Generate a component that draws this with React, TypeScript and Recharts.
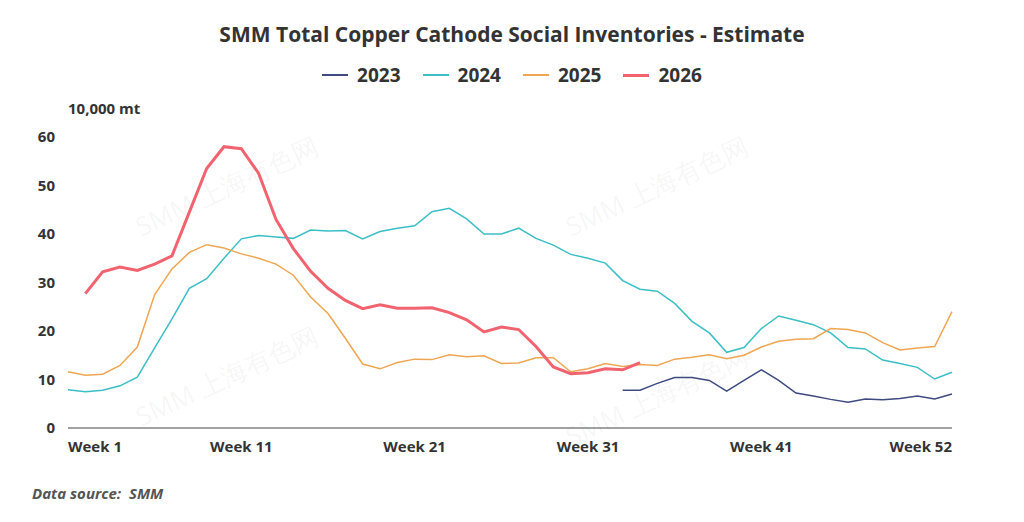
import { LineChart, Line, XAxis, YAxis } from "recharts";

const weeks = Array.from({ length: 52 }, (_, i) => i + 1);

const s2023: (number | null)[] = [
  ...Array(32).fill(null),
  7.8, 7.8, 9.2, 10.4, 10.4, 9.8, 7.6, 9.8, 12, 9.8, 7.2, 6.6, 5.9, 5.3, 6, 5.8, 6.1, 6.6, 6, 7,
];
const s2024 = [
  7.9, 7.5, 7.8, 8.7, 10.5, 16.5, 22.5, 28.8, 30.8, 35, 39, 39.7, 39.4, 39.1, 40.8, 40.6, 40.7, 39,
  40.5, 41.2, 41.7, 44.6, 45.3, 43.1, 40, 40, 41.2, 39.1, 37.7, 35.8, 35, 34, 30.4, 28.6, 28.2, 25.7,
  22, 19.6, 15.6, 16.6, 20.5, 23.1, 22.2, 21.3, 19.6, 16.6, 16.3, 14, 13.3, 12.5, 10.1, 11.5,
];
const s2025 = [
  11.6, 10.9, 11.1, 12.9, 16.7, 27.5, 32.8, 36.2, 37.8, 37.1, 35.9, 35, 33.8, 31.5, 27, 23.6, 18.5,
  13.2, 12.2, 13.5, 14.2, 14.1, 15.1, 14.7, 14.9, 13.3, 13.4, 14.5, 14.5, 11.6, 12.2, 13.3, 12.7,
  13.1, 12.9, 14.2, 14.6, 15.1, 14.3, 15, 16.7, 17.9, 18.3, 18.4, 20.5, 20.3, 19.6, 17.6, 16.1,
  16.5, 16.8, 24,
];
const s2026: (number | null)[] = [
  null, 27.7, 32.2, 33.2, 32.5, 33.8, 35.5, 44.5, 53.5, 58, 57.6, 52.5, 43, 37, 32.3, 28.8, 26.3,
  24.6, 25.4, 24.7, 24.7, 24.8, 23.8, 22.3, 19.8, 20.8, 20.3, 16.8, 12.6, 11.2, 11.4, 12.2, 12, 13.5,
];

const xTicks = [1, 11, 21, 31, 41, 52];
const yTicks = [0, 10, 20, 30, 40, 50, 60];

const SERIES = [
  { key: "y2023", name: "2023", color: "#3e4a80", width: 1.5 },
  { key: "y2024", name: "2024", color: "#3cbec6", width: 1.5 },
  { key: "y2025", name: "2025", color: "#efa653", width: 1.5 },
  { key: "y2026", name: "2026", color: "#f0636f", width: 3 },
];

const data = weeks.map((w, i) => ({
  week: w,
  y2023: s2023[i] ?? null,
  y2024: s2024[i] ?? null,
  y2025: s2025[i] ?? null,
  y2026: s2026[i] ?? null,
}));

const FONT = "'Open Sans', 'Noto Sans', sans-serif";

function WeekTick({ x, y, payload }: any) {
  const v = payload.value;
  const anchor = v === 1 ? "start" : v === 52 ? "end" : "middle";
  return (
    <text x={x} y={y + 16} textAnchor={anchor} fill="#333" fontSize={15} fontWeight={700} fontFamily={FONT}>
      Week {v}
    </text>
  );
}

const watermarks = [
  { x: 120, y: 160 }, { x: 550, y: 160 }, { x: 120, y: 350 }, { x: 550, y: 370 },
];

export default function App() {
  return (
    <div style={{ position: "relative", width: 1008, height: 506, fontFamily: FONT, background: "#fff" }}>
      <div style={{ position: "absolute", top: 12, width: "100%", textAlign: "center", fontSize: 21, fontWeight: 700, color: "#333" }}>
        SMM Total Copper Cathode Social Inventories - Estimate
      </div>
      <div style={{ position: "absolute", top: 54, width: "100%", display: "flex", justifyContent: "center", gap: 22, fontSize: 19, fontWeight: 700, color: "#333" }}>
        {SERIES.map((s) => (
          <span key={s.key} style={{ display: "inline-flex", alignItems: "center", gap: 9 }}>
            <span style={{ width: 26, height: s.width === 3 ? 3 : 2, background: s.color, display: "inline-block" }} />
            {s.name}
          </span>
        ))}
      </div>
      <div style={{ position: "absolute", top: 90, left: 60, fontSize: 15, fontWeight: 700, color: "#333" }}>10,000 mt</div>
      {watermarks.map((w, i) => (
        <div key={i} style={{ position: "absolute", left: w.x, top: w.y, transform: "rotate(-25deg)", fontSize: 26, color: "rgba(0,0,0,0.05)", whiteSpace: "nowrap", pointerEvents: "none" }}>
          SMM 上海有色网
        </div>
      ))}
      <div style={{ position: "absolute", top: 0, left: 0 }}>
        <LineChart width={1008} height={470} data={data} margin={{ top: 129, right: 64, bottom: 20, left: 0 }}>
          <XAxis
            dataKey="week"
            type="number"
            domain={[1, 52]}
            ticks={xTicks}
            tick={<WeekTick />}
            tickLine={false}
            stroke="#444"
            interval={0}
          />
          <YAxis
            domain={[0, 60]}
            ticks={yTicks}
            width={60}
            axisLine={false}
            tickLine={false}
            tickSize={0}
            tickMargin={13}
            tick={{ fill: "#333", fontSize: 15, fontWeight: 700, fontFamily: FONT }}
          />
          {SERIES.map((s) => (
            <Line
              key={s.key}
              dataKey={s.key}
              stroke={s.color}
              strokeWidth={s.width}
              dot={false}
              type="linear"
              isAnimationActive={false}
            />
          ))}
        </LineChart>
      </div>
      <div style={{ position: "absolute", top: 475, left: 24, fontSize: 15, fontWeight: 700, fontStyle: "italic", color: "#555" }}>
        Data source:&nbsp; SMM
      </div>
    </div>
  );
}
